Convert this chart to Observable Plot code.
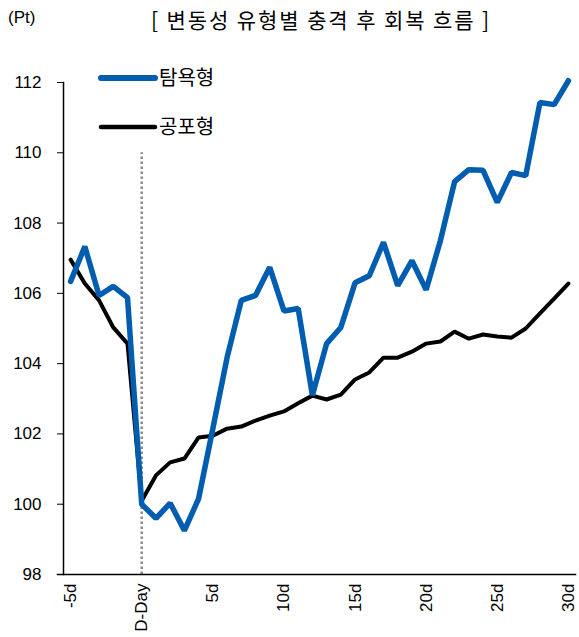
<!DOCTYPE html>
<html>
<head>
<meta charset="utf-8">
<script src="https://cdn.jsdelivr.net/npm/d3@7"></script>
<script src="https://cdn.jsdelivr.net/npm/@observablehq/plot@0.6"></script>
<style>
  body { margin: 0; background: #fff; font-family: "Liberation Sans", Arial, "Noto Sans CJK KR", sans-serif; }
  #wrap { position: relative; width: 579px; height: 637px; }
  .title { position: absolute; top: 4px; left: 151px; font-size: 21px; color: #000; white-space: pre; letter-spacing: 1.9px; font-family: "Noto Sans CJK KR", "Liberation Sans", sans-serif; }
  .unit { position: absolute; top: 8px; left: 8px; font-size: 17px; color: #000; }
  svg { position: absolute; top: 0; left: 0; }
</style>
</head>
<body>
<div id="wrap">
  <div class="unit">(Pt)</div>
  <div class="title">[ 변동성 유형별 충격 후 회복 흐름 ]</div>
</div>
<script>
const days = [-5,-4,-3,-2,-1,0,1,2,3,4,5,6,7,8,9,10,11,12,13,14,15,16,17,18,19,20,21,22,23,24,25,26,27,28,29,30];
const greedy = [106.34,107.33,105.94,106.2,105.88,100.0,99.6,100.03,99.25,100.16,102.15,104.17,105.8,105.94,106.74,105.5,105.57,103.1,104.57,105.03,106.3,106.5,107.45,106.22,106.93,106.1,107.5,109.18,109.52,109.5,108.59,109.44,109.35,111.43,111.37,112.05];
const fear = [106.96,106.28,105.8,105.03,104.57,100.1,100.82,101.19,101.3,101.9,101.95,102.15,102.21,102.38,102.52,102.64,102.87,103.09,102.98,103.12,103.55,103.75,104.17,104.17,104.34,104.57,104.63,104.91,104.71,104.83,104.77,104.74,105.0,105.43,105.85,106.28];
const seriesNames = ["탐욕형", "공포형"];
const seriesColors = ["#005DAF", "#000000"];
const xTicks = [-5,0,5,10,15,20,25,30];
const xTickLabels = ["-5d","D-Day","5d","10d","15d","20d","25d","30d"];
const yTicks = [98,100,102,104,106,108,110,112];
const eventDay = [0];
const eventTop = [110];

const rows = [];
days.forEach((d,i) => {
  rows.push({day: d, value: greedy[i], series: seriesNames[0]});
  rows.push({day: d, value: fear[i], series: seriesNames[1]});
});
const legendRows = seriesNames.map((s,i) => ({series: s, color: seriesColors[i], row: i}));

const chart = Plot.plot({
  width: 579,
  height: 637,
  marginLeft: 63,
  marginRight: 4,
  marginTop: 82,
  marginBottom: 63,
  style: {fontFamily: '"Liberation Sans", Arial, "Noto Sans CJK KR", sans-serif', fontSize: "17px", color: "#000", background: "transparent"},
  x: {domain: [-5.5, 30.5]},
  y: {domain: [98, 112]},
  marks: [
    Plot.ruleX(eventDay, {y1: 98, y2: eventTop, stroke: "#8c8c8c", strokeWidth: 2.5, strokeDasharray: "2.5,2.5"}),
    Plot.axisY({ticks: yTicks, tickSize: 6, tickPadding: 16, label: null, fontSize: 17, stroke: "#000"}),
    Plot.axisX({ticks: xTicks, tickFormat: d => xTickLabels[xTicks.indexOf(d)], tickSize: 0, tickPadding: 9, tickRotate: -90, label: null, fontSize: 17}),
    Plot.frame({anchor: "left", stroke: "#000", strokeWidth: 1.5}),
    Plot.frame({anchor: "bottom", stroke: "#000", strokeWidth: 1.5, insetLeft: -6}),
    Plot.line(rows.filter(r => r.series === seriesNames[1]), {x: "day", y: "value", stroke: seriesColors[1], strokeWidth: 4, strokeLinejoin: "miter"}),
    Plot.line(rows.filter(r => r.series === seriesNames[0]), {x: "day", y: "value", stroke: seriesColors[0], strokeWidth: 5.5, strokeLinejoin: "miter"}),
  ]
});
document.getElementById("wrap").appendChild(chart);

// legend
const svg = d3.select(chart);
const lg = svg.append("g").attr("font-size", 20).attr("text-anchor", "start");
legendRows.forEach((r) => {
  const y = 78 + r.row * 49;
  lg.append("line").attr("x1", 101).attr("x2", 155).attr("y1", y).attr("y2", y)
    .attr("stroke", r.color).attr("stroke-width", r.row === 0 ? 6 : 4.5).attr("stroke-linecap", "round");
  lg.append("text").attr("x", 159).attr("y", y).attr("dy", "0.35em").text(r.series)
    .attr("font-family", '"Noto Sans CJK KR", sans-serif').attr("fill", "#000");
});
</script>
</body>
</html>
